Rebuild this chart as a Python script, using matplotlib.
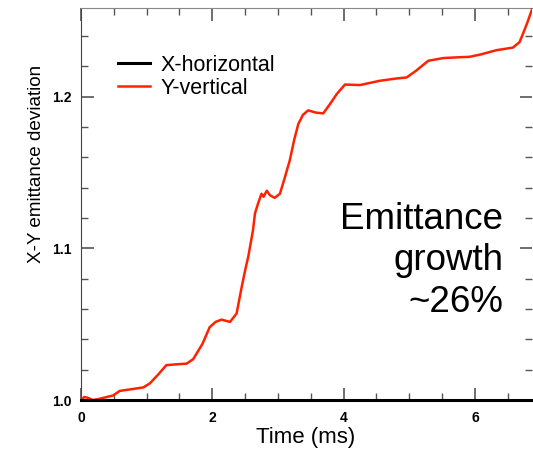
import numpy as np
import matplotlib
matplotlib.use("Agg")
import matplotlib.pyplot as plt
from matplotlib.ticker import MultipleLocator

plt.rcParams['font.family'] = ['Liberation Sans', 'DejaVu Sans']

# Y-vertical emittance ratio
t_y = [0.0, 0.05, 0.10, 0.18, 0.25, 0.35, 0.49, 0.59, 0.75, 0.95, 1.05, 1.18,
       1.30, 1.45, 1.61, 1.71, 1.85, 1.96, 2.05, 2.14, 2.27, 2.37, 2.45, 2.50,
       2.55, 2.62, 2.65, 2.70, 2.75, 2.78, 2.83, 2.88, 2.95, 3.03, 3.10, 3.18,
       3.25, 3.31, 3.38, 3.46, 3.58, 3.69, 3.79, 3.90, 4.02, 4.25, 4.55, 4.80,
       4.96, 5.10, 5.29, 5.52, 5.75, 5.92, 6.10, 6.33, 6.58, 6.68, 6.73, 6.80,
       6.88]
y_vert = [1.000, 1.002, 1.0015, 1.000, 1.0005, 1.0015, 1.003, 1.006, 1.007,
          1.0083, 1.011, 1.017, 1.023, 1.0235, 1.024, 1.027, 1.037, 1.048,
          1.0515, 1.053, 1.0515, 1.057, 1.075, 1.0855, 1.095, 1.112, 1.123,
          1.130, 1.136, 1.134, 1.138, 1.135, 1.1333, 1.136, 1.146, 1.158,
          1.172, 1.182, 1.188, 1.191, 1.1895, 1.189, 1.195, 1.202, 1.208,
          1.2077, 1.2105, 1.212, 1.2127, 1.217, 1.2237, 1.2255, 1.226, 1.2263,
          1.228, 1.2307, 1.2324, 1.236, 1.2412, 1.249, 1.2588]

# X-horizontal stays at 1.0
t_x = [0.0, 6.9]
x_horiz = [1.0, 1.0]

fig = plt.figure(figsize=(5.33, 4.54), dpi=100)
ax = fig.add_axes([81/533, 1 - 400/454, 451/533, 392/454])

ax.plot(t_x, x_horiz, color='black', lw=2.2, label='X-horizontal', zorder=4, clip_on=False)
ax.plot(t_y, y_vert, color='#ff2200', lw=1.8, label='Y-vertical', zorder=3)

ax.set_xlim(0, 6.87)
ax.set_ylim(1.0, 1.2585)

ax.xaxis.set_major_locator(MultipleLocator(2))
ax.xaxis.set_minor_locator(MultipleLocator(0.5))
ax.yaxis.set_major_locator(MultipleLocator(0.1))
ax.yaxis.set_minor_locator(MultipleLocator(0.02))
ax.yaxis.set_major_formatter(matplotlib.ticker.FormatStrFormatter('%.1f'))

ax.tick_params(which='both', direction='in', top=True, right=True,
               color='#555555', labelsize=10)
ax.tick_params(axis='x', pad=8)
ax.tick_params(axis='y', pad=7)
ax.tick_params(which='major', length=9, width=1.2)
ax.tick_params(which='minor', length=5, width=1)
for lab in ax.get_xticklabels() + ax.get_yticklabels():
    lab.set_fontweight('bold')

ax.spines['top'].set_color('#888888')
ax.spines['left'].set_color('#444444')
ax.spines['bottom'].set_linewidth(2)
ax.spines['right'].set_visible(False)

ax.set_xlabel('Time (ms)', fontsize=16)
ax.xaxis.set_label_coords((306 - 81) / 451, -(427 - 400) / 392)
ax.set_ylabel('X-Y emittance deviation', fontsize=13.6)
ax.yaxis.set_label_coords(-(81 - 45) / 451, (400 - 164) / 392)

ax.legend(loc='upper left', bbox_to_anchor=(0.04, 0.93), frameon=False,
          fontsize=15.5, handlelength=1.45, handletextpad=0.5, labelspacing=0.1)

ax.text(0.936, 0.355, 'Emittance\ngrowth\n~26%', transform=ax.transAxes,
        ha='right', va='center', fontsize=26.5, linespacing=1.25)

fig.savefig('out.png', dpi=100)
